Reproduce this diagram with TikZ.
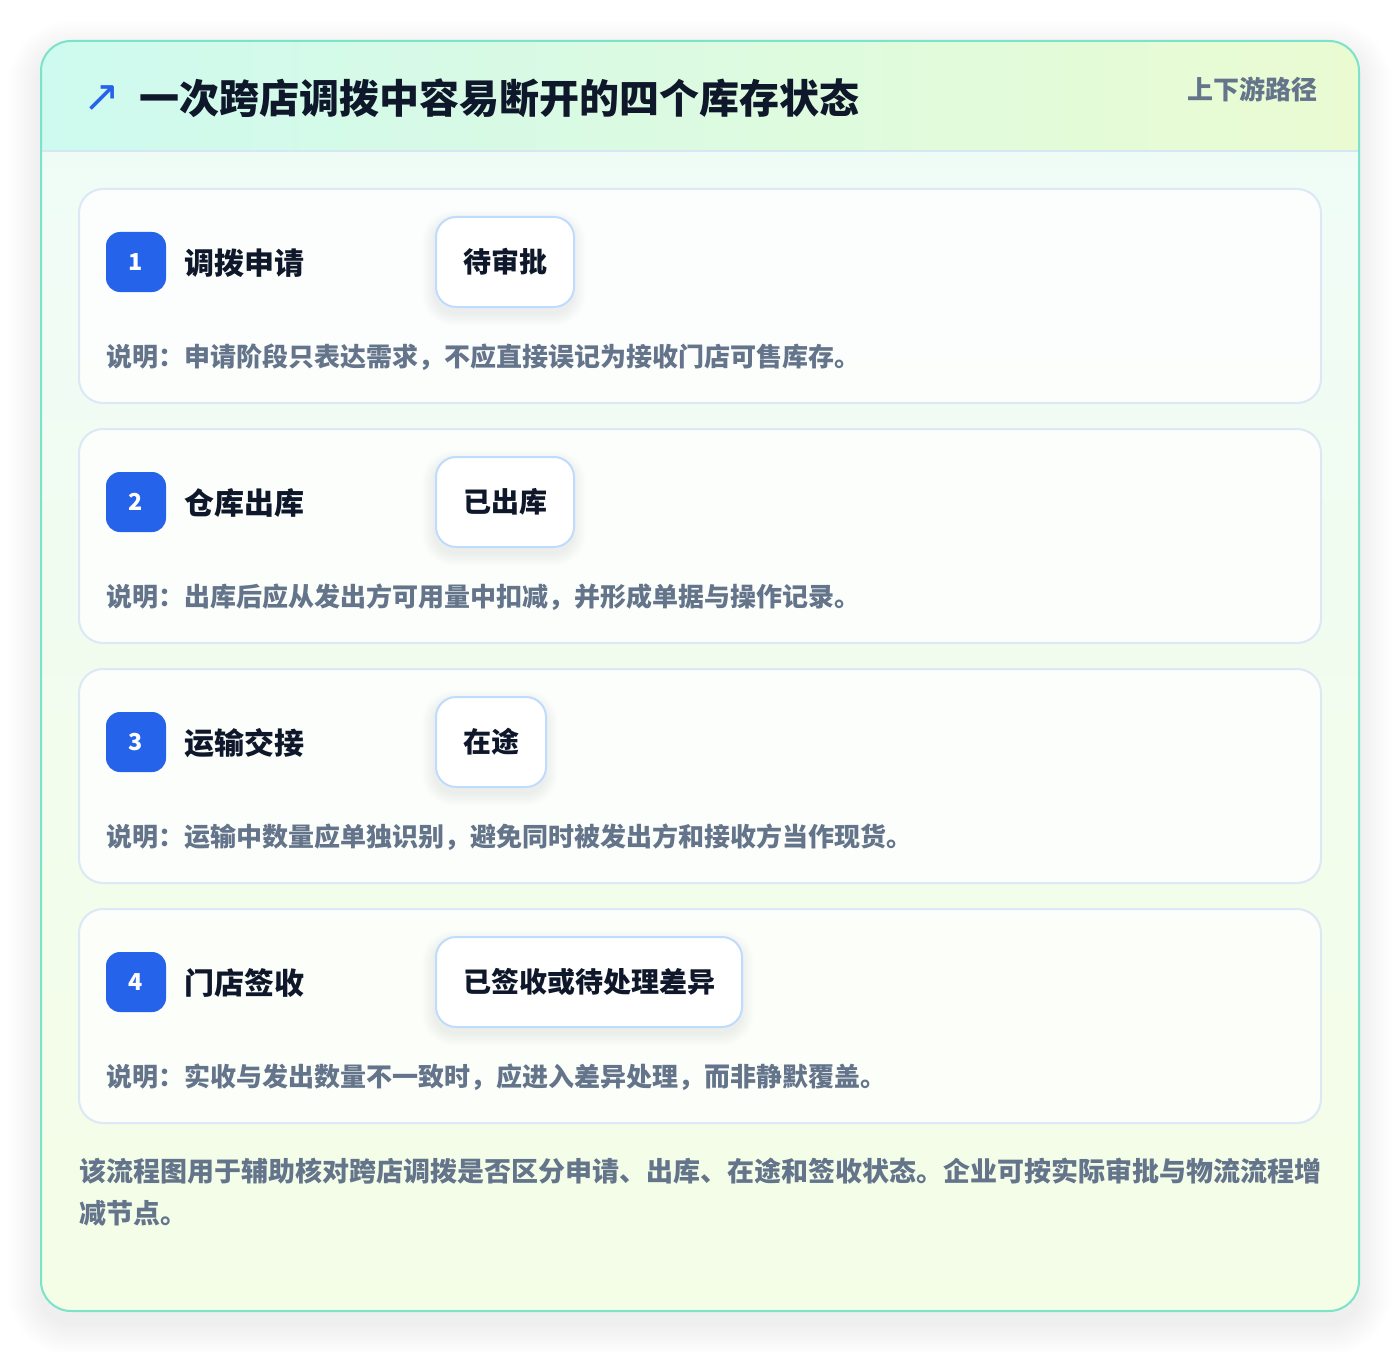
\documentclass[tikz,border=0pt]{standalone}
\usepackage{fontspec}
\setmainfont{Noto Sans CJK SC}
\newfontfamily\symfont{DejaVu Sans}
\definecolor{brd}{HTML}{7AE3C9}
\definecolor{hl}{HTML}{CEFAEF}
\definecolor{hr}{HTML}{EAFBD2}
\definecolor{hline}{HTML}{D6E6F4}
\definecolor{bodytop}{HTML}{EFFCF8}
\definecolor{bodybot}{HTML}{F4FDE6}
\definecolor{cardbrd}{HTML}{DCE8F6}
\definecolor{badge}{HTML}{2563EB}
\definecolor{ink}{HTML}{0F172A}
\definecolor{slate}{HTML}{64748B}
\definecolor{pillbrd}{HTML}{BFDBFE}
\tikzset{
  cardbox/.style={draw=cardbrd, line width=1.5pt, fill=white, fill opacity=0.75, draw opacity=1,
    rounded corners=18pt, minimum width=931.5pt, minimum height=160.5pt, inner sep=0pt, outer sep=0pt},
  badgebox/.style={fill=badge, rounded corners=10.5pt, minimum width=45pt, minimum height=45pt,
    inner sep=0pt, text=white, font=\fontsize{17.5}{19}\selectfont\bfseries},
  steptitle/.style={anchor=west, inner sep=0pt, text=ink, font=\fontsize{22.5}{26}\selectfont\bfseries},
  pillbox/.style={draw=pillbrd, line width=1.5pt, fill=white, rounded corners=15pt,
    minimum height=67.5pt, inner xsep=20.25pt, inner ysep=0pt, anchor=west, text=ink,
    font=\fontsize{21}{24}\selectfont\bfseries},
  desctext/.style={anchor=west, inner sep=0pt, text=slate, font=\fontsize{19.5}{23}\selectfont\bfseries},
}
% soft shadow behind a pill: x1 y1 x2 y2 (px)
\newcommand\mypillshadow[4]{%
  \foreach \i in {1,...,8}{%
    \pgfmathsetmacro\rr{15+\i*1.2}%
    \fill[black, opacity=0.007, rounded corners=\rr pt]
      (#1-\i*1.6, #2-\i*1.6+6) rectangle (#3+\i*1.6, #4+\i*1.6+6);
  }}
\begin{document}
\begin{tikzpicture}[x=0.75pt,y=-0.75pt]
\useasboundingbox (0,0) rectangle (1400,1352);
\fill[white] (0,0) rectangle (1400,1352);
% soft outer shadow
\foreach \i in {1,...,16}{%
  \pgfmathsetmacro\rr{22.5+\i*1.5}%
  \fill[black, opacity=0.005, rounded corners=\rr pt]
    (41-\i*2, 41-\i*2+12) rectangle (1359+\i*2, 1311+\i*2+12);
}
% outer card
\fill[white, rounded corners=22.5pt] (41,41) rectangle (1359,1311);
\begin{scope}
  \clip[rounded corners=22.5pt] (41,41) rectangle (1359,1311);
  \shade[top color=bodytop, bottom color=bodybot] (41,41) rectangle (1359,1311);
  \shade[left color=hl, right color=hr] (41,41) rectangle (1359,151);
  \draw[hline, line width=1.5pt] (41,151) -- (1359,151);
\end{scope}
\draw[brd, line width=1.5pt, rounded corners=22.5pt] (41,41) rectangle (1359,1311);

% header
\node[anchor=center, inner sep=0pt, text=badge, font=\symfont\fontsize{33}{35}\selectfont] (arrow) at (102,99) {↗};
\node[anchor=west, inner sep=0pt, text=ink, font=\fontsize{30}{34}\selectfont\bfseries] (title) at (139,98)
  {一次跨店调拨中容易断开的四个库存状态};
\node[anchor=east, inner sep=0pt, text=slate, font=\fontsize{19.5}{22}\selectfont\bfseries] (route) at (1318,89)
  {上下游路径};

% cards
\node[cardbox] (card1) at (700,296) {};
\node[cardbox] (card2) at (700,536) {};
\node[cardbox] (card3) at (700,776) {};
\node[cardbox] (card4) at (700,1016) {};

% pill shadows
\mypillshadow{435}{217}{573}{307}
\mypillshadow{435}{457}{573}{547}
\mypillshadow{435}{697}{545}{787}
\mypillshadow{435}{937}{741}{1027}

% card 1
\node[badgebox] (b1) at (136,262) {1};
\node[steptitle] (t1) at (184,263) {调拨申请};
\node[pillbox] (p1) at (435,262) {待审批};
\node[desctext] (d1) at (106,357) {说明：申请阶段只表达需求，不应直接误记为接收门店可售库存。};

% card 2
\node[badgebox] (b2) at (136,502) {2};
\node[steptitle] (t2) at (184,503) {仓库出库};
\node[pillbox] (p2) at (435,502) {已出库};
\node[desctext] (d2) at (106,597) {说明：出库后应从发出方可用量中扣减，并形成单据与操作记录。};

% card 3
\node[badgebox] (b3) at (136,742) {3};
\node[steptitle] (t3) at (184,743) {运输交接};
\node[pillbox] (p3) at (435,742) {在途};
\node[desctext] (d3) at (106,837) {说明：运输中数量应单独识别，避免同时被发出方和接收方当作现货。};

% card 4
\node[badgebox] (b4) at (136,982) {4};
\node[steptitle] (t4) at (184,983) {门店签收};
\node[pillbox] (p4) at (435,982) {已签收或待处理差异};
\node[desctext] (d4) at (106,1077) {说明：实收与发出数量不一致时，应进入差异处理，而非静默覆盖。};

% footer
\node[anchor=north west, inner sep=0pt, text=slate, align=left,
  font=\fontsize{20.25}{31.5}\selectfont\bfseries] (foot) at (79,1158)
  {该流程图用于辅助核对跨店调拨是否区分申请、出库、在途和签收状态。企业可按实际审批与物流流程增\\减节点。};
\end{tikzpicture}
\end{document}
